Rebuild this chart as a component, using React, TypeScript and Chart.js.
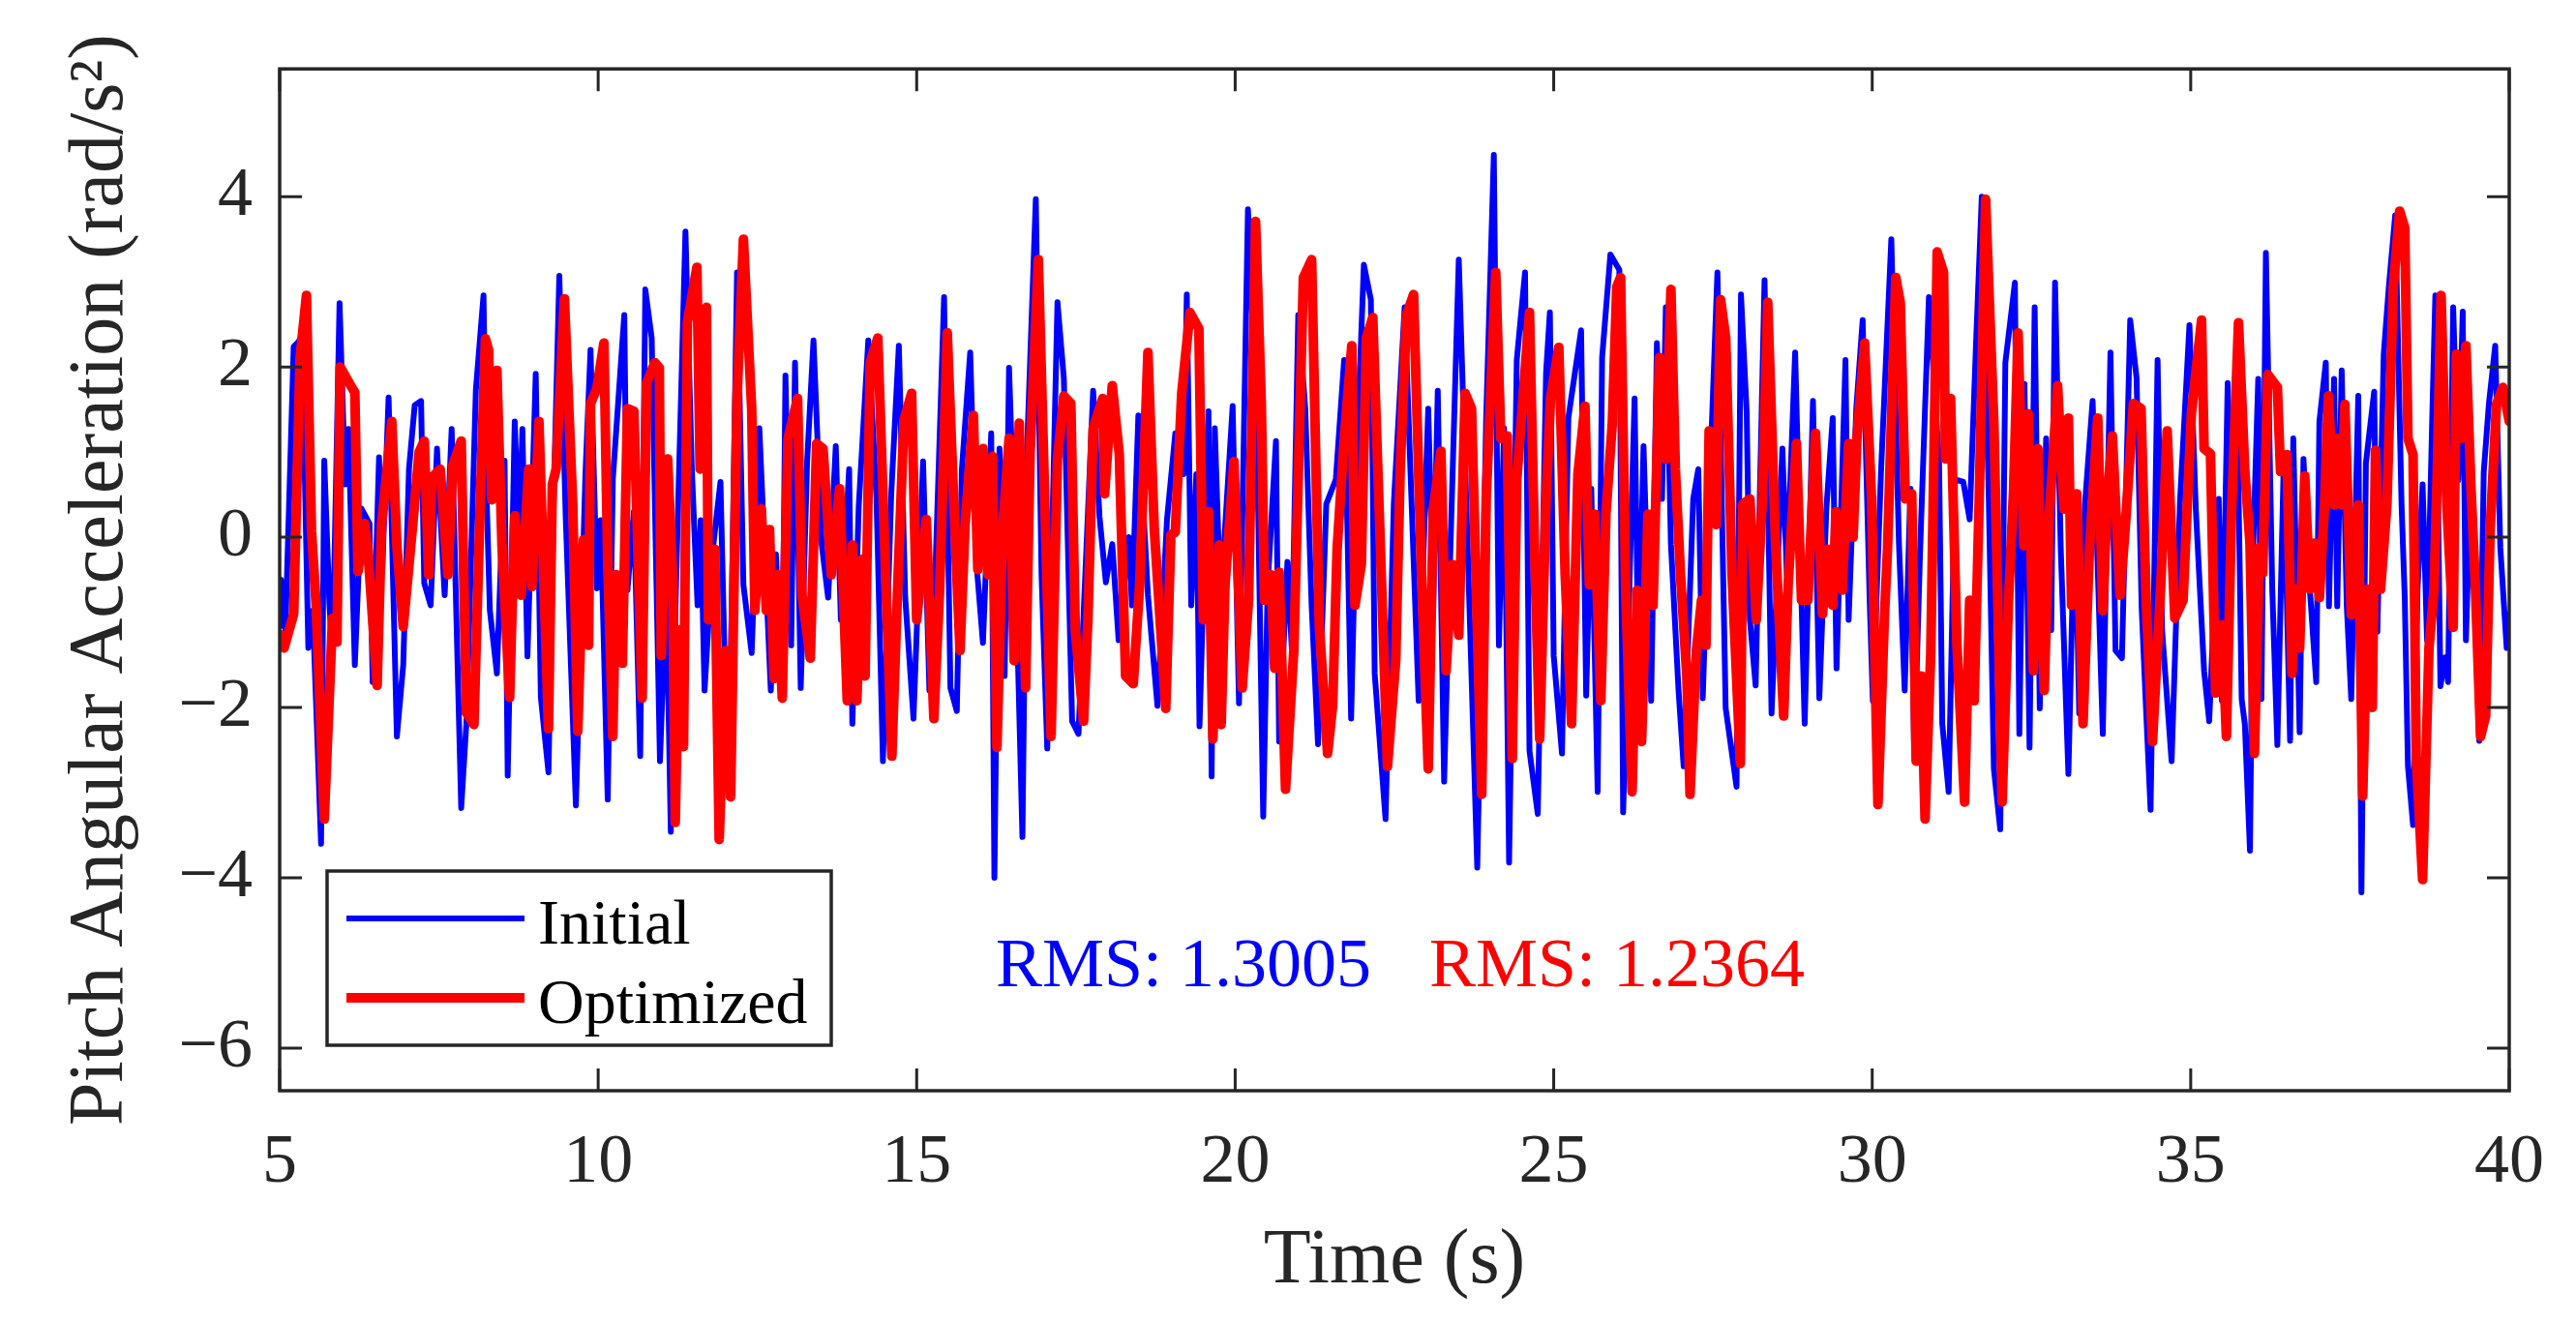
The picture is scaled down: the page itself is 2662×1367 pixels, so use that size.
import React, { useEffect, useRef } from "react";
import { Chart, registerables } from "chart.js";

Chart.register(...registerables);

// ---------- data (turning points) ----------
const xTicks = [5, 10, 15, 20, 25, 30, 35, 40];
const yTicks = [-6, -4, -2, 0, 2, 4];

const seriesNames = ["Initial", "Optimized"];
const rmsLabels = ["RMS: 1.3005", "RMS: 1.2364"];

const initialT = [
  5.0, 5.02, 5.09, 5.22, 5.3, 5.35, 5.45, 5.52, 5.65, 5.7,
  5.78, 5.83, 5.94, 6.03, 6.08, 6.18, 6.28, 6.41, 6.46, 6.56,
  6.61, 6.71, 6.84, 6.94, 7.03, 7.12, 7.22, 7.27, 7.37, 7.47,
  7.59, 7.7, 7.85, 7.93, 8.08, 8.2, 8.25, 8.3, 8.41, 8.53,
  8.58, 8.69, 8.76, 8.81, 8.89, 9.02, 9.1, 9.22, 9.3, 9.39,
  9.49, 9.65, 9.8, 9.88, 9.98, 10.04, 10.15, 10.23, 10.41, 10.46,
  10.56, 10.66, 10.74, 10.84, 10.97, 11.07, 11.14, 11.22, 11.37, 11.47,
  11.56, 11.61, 11.67, 11.8, 11.92, 11.98, 12.05, 12.18, 12.28, 12.41,
  12.53, 12.71, 12.79, 12.89, 12.94, 13.03, 13.09, 13.18, 13.28, 13.38,
  13.51, 13.61, 13.73, 13.81, 13.94, 13.99, 14.09, 14.24, 14.37, 14.47,
  14.6, 14.72, 14.82, 14.95, 15.1, 15.2, 15.3, 15.43, 15.53, 15.63,
  15.71, 15.84, 15.94, 16.04, 16.17, 16.22, 16.3, 16.38, 16.45, 16.56,
  16.66, 16.73, 16.87, 16.96, 17.05, 17.21, 17.31, 17.44, 17.54, 17.64,
  17.77, 17.87, 17.97, 18.07, 18.17, 18.33, 18.38, 18.48, 18.63, 18.78,
  18.93, 19.06, 19.19, 19.24, 19.31, 19.39, 19.44, 19.58, 19.63, 19.68,
  19.78, 19.83, 19.96, 20.06, 20.2, 20.34, 20.44, 20.51, 20.64, 20.69,
  20.82, 20.89, 20.99, 21.1, 21.2, 21.3, 21.43, 21.58, 21.71, 21.82,
  21.93, 22.02, 22.13, 22.19, 22.36, 22.49, 22.66, 22.88, 23.03, 23.11,
  23.18, 23.28, 23.38, 23.51, 23.66, 23.8, 23.94, 24.06, 24.14, 24.22,
  24.3, 24.42, 24.55, 24.62, 24.75, 24.88, 24.94, 25.0, 25.13, 25.23,
  25.43, 25.51, 25.59, 25.69, 25.76, 25.89, 26.03, 26.09, 26.27, 26.33,
  26.41, 26.53, 26.62, 26.7, 26.76, 26.84, 26.96, 27.04, 27.19, 27.27,
  27.34, 27.44, 27.57, 27.7, 27.87, 27.94, 28.03, 28.08, 28.17, 28.31,
  28.42, 28.59, 28.66, 28.79, 28.94, 29.07, 29.17, 29.28, 29.38, 29.44,
  29.58, 29.63, 29.75, 29.85, 29.96, 30.01, 30.14, 30.3, 30.42, 30.51,
  30.6, 30.66, 30.75, 30.89, 31.05, 31.1, 31.2, 31.3, 31.43, 31.53,
  31.63, 31.72, 31.83, 31.91, 32.01, 32.09, 32.24, 32.31, 32.39, 32.47,
  32.55, 32.63, 32.73, 32.81, 32.87, 32.96, 33.08, 33.18, 33.25, 33.34,
  33.46, 33.62, 33.74, 33.82, 33.92, 34.05, 34.15, 34.23, 34.3, 34.37,
  34.48, 34.55, 34.7, 34.83, 34.98, 35.08, 35.21, 35.29, 35.44, 35.49,
  35.58, 35.63, 35.73, 35.8, 35.85, 35.93, 35.98, 36.06, 36.11, 36.18,
  36.28, 36.36, 36.46, 36.56, 36.61, 36.71, 36.77, 36.87, 36.97, 37.02,
  37.12, 37.17, 37.25, 37.3, 37.37, 37.45, 37.52, 37.63, 37.68, 37.75,
  37.88, 37.93, 38.03, 38.11, 38.21, 38.31, 38.36, 38.41, 38.49, 38.56,
  38.64, 38.71, 38.79, 38.84, 38.92, 38.99, 39.04, 39.12, 39.2, 39.27,
  39.32, 39.4, 39.53, 39.6, 39.68, 39.78, 39.86, 39.96, 40.0,
];
const initialV = [
  -1.05, -0.5, -1.1, 2.24, 2.3, 2.38, -1.3, -0.86, -3.6, 0.9,
  -0.77, -1.4, 2.75, 0.62, 1.27, -1.5, 0.34, 0.16, -1.7, 0.94,
  -0.4, 1.64, -2.34, -1.5, 0.8, 1.55, 1.6, -0.54, -0.8, 1.04,
  -0.68, 1.27, -3.18, -2.2, 1.73, 2.84, 0.44, -0.86, -1.6, 0.9,
  -2.8, 1.36, -0.1, 1.27, -1.4, 1.92, -1.88, -2.76, 0.4, 3.07,
  0.25, -3.15, 0.74, 2.2, -0.6, 0.2, -3.08, 0.68, 2.61, -0.62,
  0.3, -2.57, 2.91, 2.34, -2.63, -0.56, -3.46, -0.62, 3.59, 0.8,
  -0.8, 0.2, -1.8, -0.14, 0.65, -1.27, -2.99, 3.11, -0.56, -1.36,
  1.28, -1.8, -0.2, -1.83, 1.9, -1.27, 2.05, -1.77, 0.89, 2.31,
  -0.09, -0.71, 1.07, -0.97, 0.8, -2.19, 0.36, 2.31, 0.45, -2.63,
  0.5, 2.25, -0.71, -2.13, 0.89, -1.8, -0.26, 2.82, -1.77, -2.04,
  0.8, 2.17, -0.32, -1.24, 1.22, -4.0, 1.04, -1.63, 1.99, -0.56,
  -3.52, 0.98, 3.97, -0.44, -2.48, 2.76, 1.87, -2.16, -2.31, -0.56,
  1.72, 0.24, -0.53, -0.08, -1.21, 0.0, -0.8, 1.43, -0.68, -1.98,
  0.21, 1.22, 0.74, 2.85, -0.8, 0.74, -2.22, 1.48, -2.81, 1.28,
  -1.03, -0.03, 1.54, -1.95, 3.85, 1.28, -3.28, -0.56, 1.13, -2.4,
  -0.29, -1.33, 2.61, 1.51, -0.8, -2.43, 0.39, 0.68, 2.08, -2.13,
  1.4, 3.2, 2.79, -1.6, -3.31, 0.39, 2.7, -1.92, 1.51, -0.74,
  1.72, -2.87, -0.09, 3.26, -0.38, -3.88, 1.4, 4.49, -1.27, 1.28,
  -3.82, 2.08, 3.11, -2.51, -3.25, 1.93, 2.64, -1.39, -2.54, 1.4,
  2.43, -1.86, 0.57, -2.99, 2.11, 3.32, 3.14, -3.23, 1.63, -1.57,
  1.07, -1.92, 2.28, 0.45, 2.7, -0.08, -1.8, -2.69, 0.45, 0.8,
  -1.89, 0.45, 3.11, -2.01, -2.93, 2.85, 1.46, -0.97, -1.74, 3.02,
  -2.07, 1.04, -0.44, 2.17, -2.19, 1.6, -1.89, 0.33, 1.4, -1.54,
  2.08, -0.97, 1.51, 2.55, -0.74, -1.92, 0.8, 3.5, -0.08, -1.8,
  0.57, -2.57, -0.2, 2.82, 0.86, -2.19, -2.99, 0.68, 0.65, 0.21,
  2.28, 4.0, 0.45, -2.72, -3.43, 2.05, 2.99, -2.31, 1.8, -2.47,
  2.7, -2.01, 1.16, -1.09, 2.99, -0.14, -2.78, 0.45, -2.07, 0.39,
  1.6, -2.31, 2.17, -1.33, -1.42, 2.55, 1.87, -0.83, -2.04, -3.2,
  2.08, -1.09, -2.63, 0.39, 2.49, 0.33, -1.57, -2.16, 0.45, -1.92,
  1.81, -0.22, 1.56, -1.9, -2.2, -3.68, -0.12, 1.86, -1.9, 3.34,
  -0.61, -2.44, 0.87, -2.39, 1.16, -2.29, 0.92, -0.61, -1.7, 1.36,
  2.05, -0.81, 1.86, -0.81, 1.96, -0.81, -1.9, 1.66, -4.17, 0.87,
  1.71, -1.11, 2.15, 2.94, 3.78, 0.38, -0.71, -2.69, -3.38, -0.61,
  0.62, -1.21, 1.36, 2.84, -1.75, -1.41, -1.7, 2.7, 0.67, 2.65,
  -1.21, 0.77, -2.39, 0.77, 1.56, 2.25, -0.12, -1.3, -0.9,
];

const optimizedT = [
  5.0, 5.07, 5.22, 5.32, 5.42, 5.5, 5.57, 5.7, 5.83, 5.9,
  5.95, 6.1, 6.18, 6.23, 6.33, 6.38, 6.53, 6.6, 6.76, 6.84,
  6.94, 7.09, 7.19, 7.27, 7.34, 7.39, 7.52, 7.64, 7.72, 7.85,
  7.93, 8.05, 8.15, 8.23, 8.28, 8.33, 8.41, 8.49, 8.61, 8.69,
  8.79, 8.91, 8.96, 9.07, 9.22, 9.28, 9.34, 9.47, 9.6, 9.68,
  9.77, 9.85, 9.88, 9.98, 10.09, 10.15, 10.23, 10.28, 10.38, 10.46,
  10.56, 10.69, 10.76, 10.89, 10.96, 10.99, 11.09, 11.17, 11.21, 11.27,
  11.34, 11.4, 11.55, 11.6, 11.7, 11.73, 11.83, 11.9, 12.0, 12.08,
  12.18, 12.28, 12.41, 12.46, 12.56, 12.64, 12.69, 12.76, 12.81, 12.89,
  12.98, 13.13, 13.2, 13.33, 13.43, 13.53, 13.66, 13.79, 13.91, 13.99,
  14.06, 14.14, 14.19, 14.27, 14.39, 14.52, 14.61, 14.7, 14.8, 14.92,
  15.0, 15.15, 15.27, 15.36, 15.48, 15.58, 15.68, 15.76, 15.89, 15.96,
  16.04, 16.12, 16.19, 16.26, 16.35, 16.45, 16.53, 16.61, 16.71, 16.78,
  16.91, 17.01, 17.11, 17.21, 17.31, 17.42, 17.49, 17.62, 17.69, 17.77,
  17.92, 17.95, 18.07, 18.18, 18.28, 18.4, 18.5, 18.63, 18.73, 18.91,
  18.99, 19.06, 19.16, 19.29, 19.43, 19.5, 19.58, 19.65, 19.75, 19.78,
  19.84, 19.98, 20.11, 20.21, 20.32, 20.41, 20.46, 20.56, 20.62, 20.69,
  20.79, 20.92, 21.07, 21.2, 21.27, 21.32, 21.45, 21.53, 21.6, 21.7,
  21.83, 21.88, 21.98, 22.06, 22.16, 22.26, 22.39, 22.52, 22.59, 22.69,
  22.8, 22.88, 22.93, 23.03, 23.11, 23.23, 23.31, 23.41, 23.51, 23.61,
  23.71, 23.87, 23.94, 24.09, 24.17, 24.27, 24.35, 24.42, 24.62, 24.7,
  24.78, 24.88, 24.95, 25.08, 25.18, 25.28, 25.38, 25.49, 25.56, 25.64,
  25.74, 25.82, 25.92, 25.99, 26.05, 26.13, 26.23, 26.31, 26.38, 26.48,
  26.56, 26.66, 26.76, 26.84, 26.91, 26.99, 27.09, 27.14, 27.24, 27.32,
  27.39, 27.44, 27.55, 27.62, 27.7, 27.8, 27.93, 27.97, 28.08, 28.18,
  28.28, 28.36, 28.48, 28.61, 28.68, 28.81, 28.89, 28.99, 29.11, 29.22,
  29.3, 29.38, 29.43, 29.53, 29.63, 29.7, 29.76, 29.88, 29.99, 30.09,
  30.19, 30.24, 30.37, 30.44, 30.52, 30.62, 30.69, 30.77, 30.83, 30.92,
  31.02, 31.12, 31.15, 31.23, 31.33, 31.45, 31.53, 31.6, 31.68, 31.78,
  31.91, 32.04, 32.14, 32.22, 32.29, 32.38, 32.45, 32.53, 32.6, 32.7,
  32.78, 32.91, 33.01, 33.08, 33.13, 33.21, 33.31, 33.41, 33.54, 33.62,
  33.69, 33.77, 33.89, 33.97, 34.1, 34.22, 34.3, 34.4, 34.53, 34.63,
  34.75, 34.88, 35.01, 35.17, 35.21, 35.31, 35.39, 35.49, 35.56, 35.64,
  35.75, 35.85, 35.93, 36.0, 36.08, 36.13, 36.21, 36.36, 36.41, 36.51,
  36.59, 36.64, 36.71, 36.79, 36.87, 36.94, 37.02, 37.1, 37.16, 37.25,
  37.3, 37.37, 37.42, 37.52, 37.63, 37.7, 37.78, 37.85, 37.9, 37.98,
  38.08, 38.18, 38.28, 38.36, 38.41, 38.49, 38.54, 38.64, 38.74, 38.82,
  38.87, 38.93, 39.02, 39.12, 39.17, 39.25, 39.32, 39.4, 39.47, 39.55,
  39.63, 39.7, 39.8, 39.9, 40.0,
];
const optimizedV = [
  -1.14, -1.3, -0.9, 2.1, 2.84, 0.07, -0.77, -3.31, -0.95, -1.23,
  2.0, 1.8, 1.7, -0.4, 0.16, -0.1, -1.74, 0.15, 1.36, -0.1,
  -1.05, 0.16, 1.0, 1.13, -0.44, 0.7, 0.8, -0.44, 0.85, 1.13,
  -2.06, -2.2, 0.44, 2.33, 2.2, 0.44, 1.96, -0.1, -1.88, 0.25,
  -0.68, 0.8, -0.58, 1.36, -2.25, 0.62, 0.8, 2.8, 0.4, -2.28,
  -0.03, -1.27, 1.57, 1.75, 2.28, -0.32, -2.34, -0.44, -1.48, 1.51,
  1.48, -1.89, 1.81, 2.05, 1.99, -1.39, 0.92, -0.5, -3.35, -1.09,
  -2.46, 2.52, 3.17, 0.8, 2.7, -0.97, -0.14, -3.55, -1.33, -3.05,
  1.63, 3.5, 1.51, -0.86, 0.33, -0.86, 0.09, -1.66, -0.44, -1.89,
  1.16, 1.63, -0.68, -1.42, 1.1, 1.04, -0.44, 0.57, -1.92, -0.09,
  -1.92, -0.26, -1.63, 2.05, 2.34, -0.62, -2.57, -0.62, 1.37, 1.69,
  -0.97, 0.21, -2.13, -0.62, 2.4, 0.45, -1.33, 0.15, 1.43, -0.38,
  1.04, -0.44, 0.95, -2.47, 0.09, 1.16, -1.45, 1.34, -1.77, 0.98,
  3.26, 0.45, -2.34, 0.92, 1.66, 1.57, -1.09, -2.16, -0.92, 1.28,
  1.63, 0.51, 1.78, 0.98, -1.63, -1.72, -0.56, 2.17, 0.09, -2.01,
  0.03, 0.06, 1.69, 2.64, 2.45, -0.97, 0.3, -2.37, -0.09, -2.2,
  -0.56, 0.89, -1.77, -0.74, 3.71, 1.57, -0.74, -0.44, -1.54, -0.41,
  -2.96, -1.33, 3.05, 3.26, 0.74, -1.03, -2.54, -1.98, -0.14, 1.04,
  2.25, -0.8, -0.32, 2.34, 2.58, 0.33, -2.69, -1.45, 0.8, 2.61,
  2.85, 0.74, -0.56, -2.72, 0.33, 1.01, -1.57, -0.32, -1.15, 1.69,
  1.51, -3.02, 0.45, 3.11, 1.16, 1.19, -2.6, 0.68, 2.64, -0.14,
  -2.37, 0.45, 1.63, 2.23, -0.44, -2.19, 0.74, 1.54, -0.56, 0.27,
  -1.92, 0.27, 1.34, 2.94, 3.05, -0.62, -2.99, -0.62, -2.4, 0.27,
  -0.8, 2.11, 0.92, 2.91, 0.8, -0.44, -1.63, -3.02, -1.33, -0.74,
  -1.27, 1.25, 0.15, 2.79, 2.34, -0.44, -2.66, 0.39, 0.45, -0.97,
  0.51, 2.76, -0.03, -2.1, -0.56, 1.1, -0.74, -0.74, 1.22, -0.9,
  -0.14, -0.8, 0.3, -0.62, 1.1, 0.0, 1.16, 2.28, 0.45, -3.14,
  -0.97, -0.14, 3.05, 2.76, 0.45, 0.51, -2.63, -1.63, -3.31, -1.33,
  3.35, 3.11, 0.92, 1.63, -1.27, -3.11, -0.74, -1.92, 0.45, 3.97,
  1.34, -3.11, -0.74, 0.57, 2.4, -0.1, 1.45, -1.57, 1.04, -1.8,
  0.27, 1.78, 0.33, 1.4, -0.8, 0.51, -2.19, -0.14, 1.4, -0.86,
  0.45, 1.19, -0.68, 0.09, 1.57, 1.51, -0.74, -2.4, -0.56, 1.25,
  -0.95, -0.74, 1.45, 2.55, 1.04, 0.98, -1.83, -1.03, -2.34, 0.27,
  2.52, 0.77, -0.07, -2.54, -0.12, -0.42, 1.91, 1.76, 0.77, 0.97,
  -1.6, -0.61, -1.3, 0.72, -0.61, -0.07, -0.71, 0.38, 1.66, 0.38,
  1.16, 0.38, 1.56, -0.91, 0.38, -3.04, -0.61, -2.0, 1.02, -0.61,
  0.38, 2.94, 3.83, 3.63, 1.16, 0.97, -2.59, -4.02, -1.3, -0.61,
  0.77, 2.84, 0.38, -1.06, 2.15, 1.16, 2.25, 0.57, -0.61, -2.34,
  -2.1, 0.08, 1.56, 1.76, 1.36,
];

// ---------- styling ----------
const BLUE = "#0000FF";
const RED = "#FF0000";
const AXIS = "#262626";
const SERIF = "'Liberation Serif', 'DejaVu Serif', 'Times New Roman', serif";
const W = 2662;
const H = 1367;

const toPoints = (ts: number[], vs: number[]) => {
  const n = Math.min(ts.length, vs.length);
  const out: { x: number; y: number }[] = [];
  for (let i = 0; i < n; i++) out.push({ x: ts[i], y: vs[i] });
  return out;
};

const fmt = (v: number) => (v < 0 ? "\u2212" + Math.abs(v) : String(v));

const framePlugin = {
  id: "matlabFrame",
  afterDatasetsDraw(chart: any) {
    const { ctx, chartArea: a, scales } = chart;
    const xs = scales.x;
    const ys = scales.y;
    ctx.save();
    // inward ticks on all four sides
    const TL = 23;
    ctx.strokeStyle = AXIS;
    ctx.lineWidth = 3;
    ctx.lineCap = "butt";
    ctx.beginPath();
    for (const t of xTicks) {
      const px = xs.getPixelForValue(t);
      ctx.moveTo(px, a.bottom);
      ctx.lineTo(px, a.bottom - TL);
      ctx.moveTo(px, a.top);
      ctx.lineTo(px, a.top + TL);
    }
    for (const t of yTicks) {
      const py = ys.getPixelForValue(t);
      ctx.moveTo(a.left, py);
      ctx.lineTo(a.left + TL, py);
      ctx.moveTo(a.right, py);
      ctx.lineTo(a.right - TL, py);
    }
    ctx.stroke();
    // box
    ctx.lineWidth = 3.5;
    ctx.strokeRect(a.left, a.top, a.right - a.left, a.bottom - a.top);

    // legend box
    const lx = a.left + 49;
    const ly = a.bottom - 227;
    const lw = 521;
    const lh = 180;
    ctx.fillStyle = "#FFFFFF";
    ctx.fillRect(lx, ly, lw, lh);
    ctx.lineWidth = 3.5;
    ctx.strokeStyle = AXIS;
    ctx.strokeRect(lx, ly, lw, lh);

    const entries = [
      { name: seriesNames[0], color: BLUE, width: 6, y: ly + 49 },
      { name: seriesNames[1], color: RED, width: 10, y: ly + 131 },
    ];
    ctx.font = `66px ${SERIF}`;
    ctx.textAlign = "left";
    ctx.textBaseline = "alphabetic";
    for (const e of entries) {
      ctx.strokeStyle = e.color;
      ctx.lineWidth = e.width;
      ctx.beginPath();
      ctx.moveTo(lx + 20, e.y);
      ctx.lineTo(lx + 204, e.y);
      ctx.stroke();
      ctx.fillStyle = "#000000";
      ctx.fillText(e.name, lx + 218, e.y + 26);
    }

    // RMS annotations
    ctx.font = `72px ${SERIF}`;
    ctx.fillStyle = BLUE;
    ctx.fillText(rmsLabels[0], a.left + 740, a.bottom - 108);
    ctx.fillStyle = RED;
    ctx.fillText(rmsLabels[1], a.left + 1188, a.bottom - 108);
    ctx.restore();
  },
};

export default function App() {
  const ref = useRef<HTMLCanvasElement | null>(null);

  useEffect(() => {
    if (!ref.current) return;
    const chart = new Chart(ref.current, {
      type: "line",
      data: {
        datasets: [
          {
            label: seriesNames[0],
            data: toPoints(initialT, initialV),
            borderColor: BLUE,
            borderWidth: 6,
            pointRadius: 0,
            tension: 0,
            fill: false,
            borderJoinStyle: "round",
            borderCapStyle: "round",
            order: 1,
          },
          {
            label: seriesNames[1],
            data: toPoints(optimizedT, optimizedV),
            borderColor: RED,
            borderWidth: 10,
            pointRadius: 0,
            tension: 0,
            fill: false,
            borderJoinStyle: "round",
            borderCapStyle: "round",
            order: 0,
          },
        ],
      },
      options: {
        animation: false,
        responsive: true,
        maintainAspectRatio: false,
        devicePixelRatio: 1,
        events: [],
        layout: { autoPadding: false, padding: { left: 0, right: 69, top: 71, bottom: 0 } },
        plugins: { legend: { display: false }, tooltip: { enabled: false } },
        scales: {
          x: {
            type: "linear",
            min: 5,
            max: 40,
            afterBuildTicks: (s: any) => {
              s.ticks = xTicks.map((v) => ({ value: v }));
            },
            afterFit: (s: any) => {
              s.height = H - 1127;
            },
            grid: { display: false, drawTicks: false },
            border: { display: false },
            ticks: {
              color: AXIS,
              padding: 32,
              maxRotation: 0,
              autoSkip: false,
              font: { family: SERIF, size: 72 },
              callback: (v: any) => fmt(Number(v)),
            },
            title: {
              display: true,
              text: "Time (s)",
              color: AXIS,
              font: { family: SERIF, size: 80 },
              padding: { top: 0, bottom: 15 },
            },
          },
          y: {
            type: "linear",
            min: -6.5,
            max: 5.5,
            afterBuildTicks: (s: any) => {
              s.ticks = yTicks.map((v) => ({ value: v }));
            },
            afterFit: (s: any) => {
              s.width = 289;
            },
            grid: { display: false, drawTicks: false },
            border: { display: false },
            ticks: {
              color: AXIS,
              padding: 28,
              autoSkip: false,
              font: { family: SERIF, size: 72 },
              callback: (v: any) => fmt(Number(v)),
            },
            title: {
              display: true,
              text: "Pitch Angular Acceleration (rad/s\u00B2)",
              color: AXIS,
              font: { family: SERIF, size: 80 },
              padding: { top: 57, bottom: 0 },
            },
          },
        },
      },
      plugins: [framePlugin],
    } as any);
    return () => chart.destroy();
  }, []);

  return (
    <div
      style={{
        position: "absolute",
        left: 0,
        top: 0,
        width: W + "px",
        height: H + "px",
        background: "#FFFFFF",
      }}
    >
      <canvas ref={ref} />
    </div>
  );
}
